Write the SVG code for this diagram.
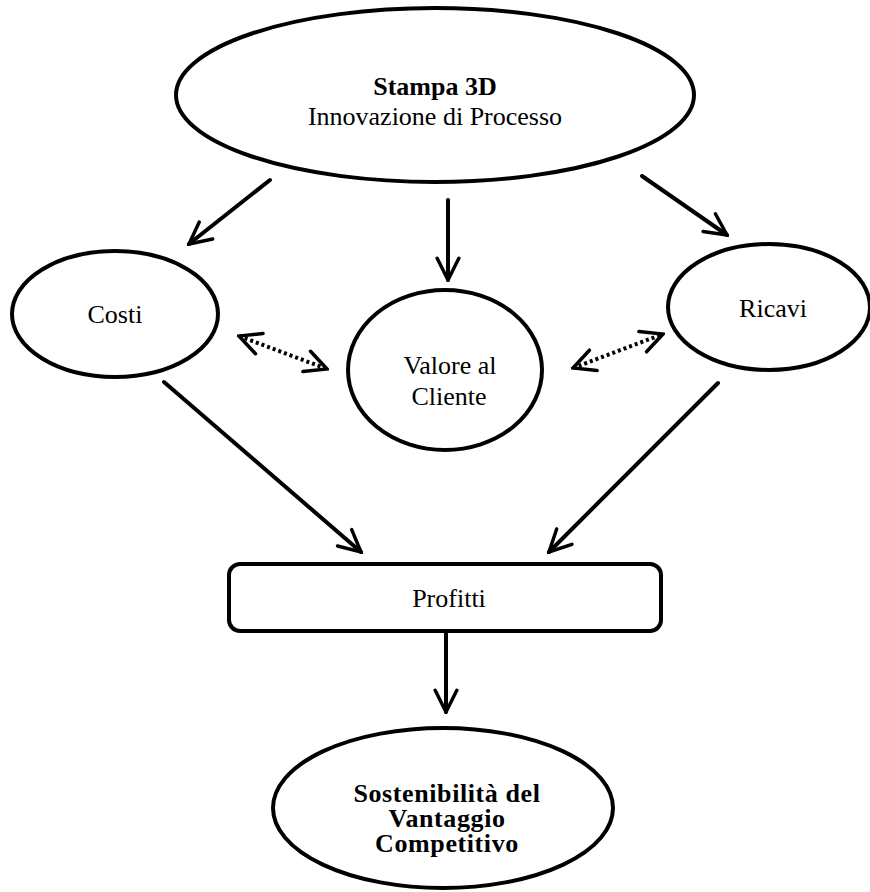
<svg xmlns="http://www.w3.org/2000/svg" width="870" height="892" viewBox="0 0 870 892">
<defs>
<style>
.shape{fill:#fff;stroke:#000;stroke-width:4}
.t{font-family:"Liberation Serif","Times New Roman",serif;font-size:26px;fill:#000;text-anchor:middle}
.b{font-weight:bold}
.s{letter-spacing:0.6px}
.c{stroke:#000;stroke-width:4;fill:none;stroke-linecap:round}
.d{stroke:#000;stroke-width:4;fill:none;stroke-dasharray:3 3}
</style>
<marker id="ah" viewBox="0 0 12 12" refX="11" refY="6" markerWidth="6.5" markerHeight="6.5" markerUnits="strokeWidth" orient="auto-start-reverse">
<path d="M1,1 L11,6 L1,11" fill="none" stroke="#000" stroke-width="1.6" stroke-linecap="round" stroke-linejoin="miter"/>
</marker>
</defs>
<rect width="870" height="892" fill="#fff"/>
<g id="connectors">
<line class="c" x1="270" y1="180" x2="189" y2="244" marker-end="url(#ah)"/>
<line class="c" x1="448" y1="200" x2="448" y2="280" marker-end="url(#ah)"/>
<line class="c" x1="642" y1="176" x2="727" y2="235" marker-end="url(#ah)"/>
<line class="c" x1="164" y1="382" x2="361" y2="552" marker-end="url(#ah)"/>
<line class="c" x1="718" y1="383" x2="549" y2="552" marker-end="url(#ah)"/>
<line class="c" x1="446" y1="632" x2="446" y2="712" marker-end="url(#ah)"/>
<line class="d" x1="239" y1="336" x2="327" y2="369" marker-start="url(#ah)" marker-end="url(#ah)"/>
<line class="d" x1="573" y1="368" x2="663" y2="334" marker-start="url(#ah)" marker-end="url(#ah)"/>
</g>
<g id="stampa">
<ellipse class="shape" cx="435" cy="95" rx="259" ry="87"/>
<text class="t b" x="435" y="95">Stampa 3D</text>
<text class="t" x="435" y="125">Innovazione di Processo</text>
</g>
<g id="costi">
<ellipse class="shape" cx="115" cy="314" rx="103" ry="63"/>
<text class="t" x="115" y="323">Costi</text>
</g>
<g id="ricavi">
<ellipse class="shape" cx="769" cy="307" rx="101" ry="63"/>
<text class="t" x="773" y="317">Ricavi</text>
</g>
<g id="valore">
<ellipse class="shape" cx="445" cy="370" rx="97" ry="80"/>
<text class="t" x="450" y="374">Valore al</text>
<text class="t" x="449" y="405">Cliente</text>
</g>
<g id="profitti">
<rect class="shape" x="229" y="564" width="432" height="67" rx="11"/>
<text class="t" x="449" y="607">Profitti</text>
</g>
<g id="sostenibilita">
<ellipse class="shape" cx="443" cy="808" rx="170" ry="80"/>
<text class="t b s" x="447" y="802">Sostenibilità del</text>
<text class="t b s" x="447" y="827">Vantaggio</text>
<text class="t b s" x="447" y="852">Competitivo</text>
</g>
</svg>
